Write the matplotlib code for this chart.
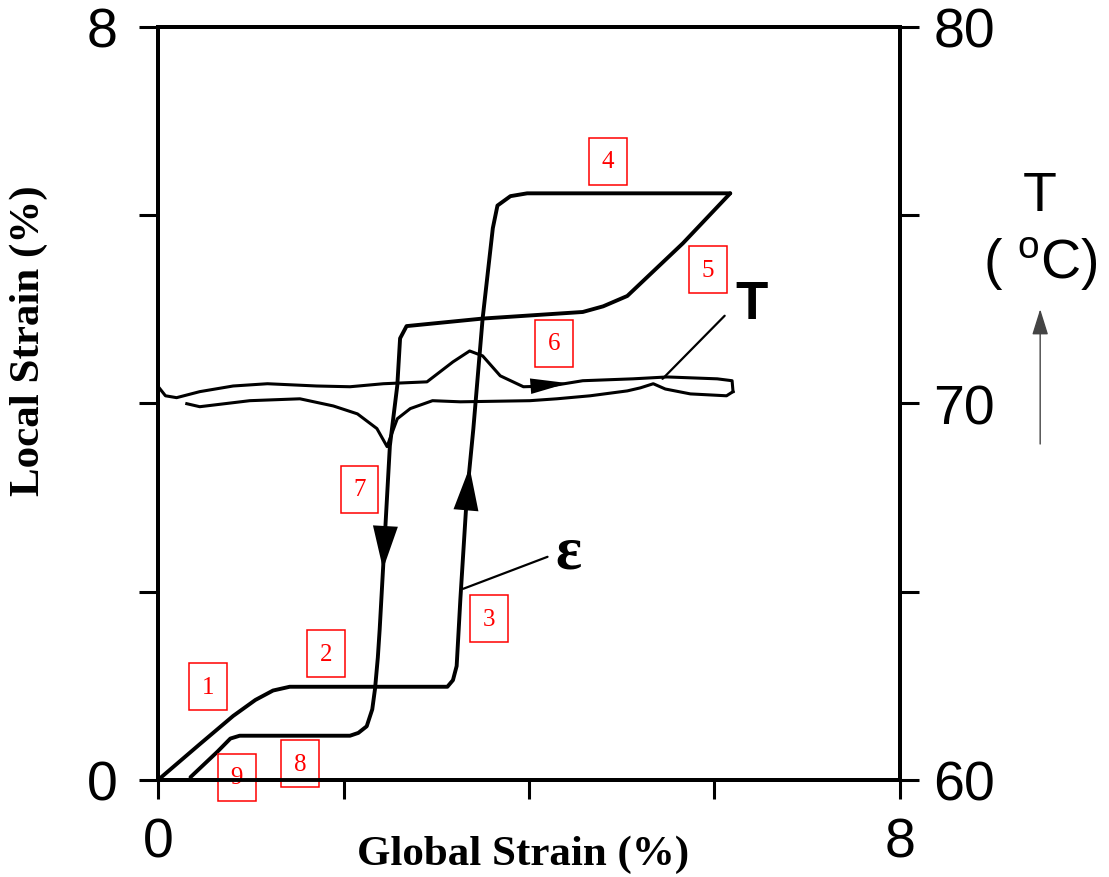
import matplotlib
matplotlib.use("Agg")
import matplotlib.pyplot as plt
import numpy as np

# local strain (epsilon) during loading and unloading, vs global strain
eps_load_x = [0.00, 0.45, 0.81, 1.05, 1.24, 1.42, 3.12, 3.18, 3.22, 3.26, 3.33, 3.40, 3.50, 3.61, 3.66, 3.80, 3.98, 6.17]
eps_load_y = [0.00, 0.38, 0.68, 0.85, 0.95, 0.99, 0.99, 1.06, 1.21, 1.92, 3.02, 3.73, 4.90, 5.86, 6.10, 6.20, 6.23, 6.23]
eps_unload_x = [6.17, 5.66, 5.06, 4.80, 4.58, 3.50, 2.68, 2.61, 2.58, 2.50, 2.39, 2.37, 2.34, 2.31, 2.25, 2.16, 2.07, 0.88, 0.78, 0.64, 0.35]
eps_unload_y = [6.23, 5.70, 5.14, 5.03, 4.97, 4.90, 4.82, 4.69, 4.19, 3.55, 1.60, 1.30, 0.97, 0.75, 0.57, 0.50, 0.47, 0.47, 0.44, 0.30, 0.03]

# temperature (deg C) vs global strain
T_load_x = [0.00, 0.08, 0.20, 0.45, 0.81, 1.18, 1.71, 2.07, 2.43, 2.90, 3.18, 3.36, 3.50, 3.69, 3.94, 4.23, 4.58, 5.12, 5.49, 6.03, 6.19, 6.20]
T_load_y = [70.45, 70.20, 70.15, 70.31, 70.46, 70.52, 70.46, 70.44, 70.52, 70.57, 71.10, 71.39, 71.26, 70.73, 70.44, 70.46, 70.60, 70.65, 70.70, 70.65, 70.60, 70.31]
T_unload_x = [6.20, 6.13, 5.74, 5.47, 5.34, 5.20, 5.06, 4.66, 4.30, 4.01, 3.26, 2.96, 2.72, 2.58, 2.50, 2.47, 2.36, 2.15, 1.89, 1.53, 0.99, 0.45, 0.31]
T_unload_y = [70.31, 70.20, 70.25, 70.38, 70.52, 70.41, 70.33, 70.20, 70.12, 70.07, 70.04, 70.07, 69.86, 69.59, 69.06, 68.85, 69.33, 69.72, 69.93, 70.12, 70.07, 69.91, 69.99]

# red boxed stage numbers
stage_labels = ["1", "2", "3", "4", "5", "6", "7", "8", "9"]
stage_x = [0.54, 1.81, 3.57, 4.85, 5.93, 4.27, 2.17, 1.53, 0.85]
stage_y = [0.99, 1.34, 1.71, 6.57, 5.42, 4.64, 3.09, 0.17, 0.03]

serif = "Liberation Serif"
sans = "Liberation Sans"

fig = plt.figure(figsize=(11.09, 8.78), dpi=100)
ax = fig.add_axes([0.1425, 0.1105, 0.669, 0.858])
ax2 = ax.twinx()

ax.plot(eps_load_x, eps_load_y, color="black", lw=2.8, solid_capstyle="round")
ax.plot(eps_unload_x, eps_unload_y, color="black", lw=2.8, solid_capstyle="round")
ax2.plot(T_load_x, T_load_y, color="black", lw=2.2)
ax2.plot(T_unload_x, T_unload_y, color="black", lw=2.2)


def arrow_at(a, xs, ys, y_tail, y_tip):
    # arrowhead on a steep branch, positions
    xs = np.asarray(xs)
    ys = np.asarray(ys)
    order = np.argsort(ys)
    xt = np.interp(y_tail, ys[order], xs[order])
    xh = np.interp(y_tip, ys[order], xs[order])
    a.annotate("", xy=(xh, y_tip), xytext=(xt, y_tail),
               arrowprops=dict(arrowstyle="-|>,head_length=1.55,head_width=0.45",
                               color="black", lw=0, mutation_scale=20,
                               shrinkA=0, shrinkB=0))


arrow_at(ax, eps_load_x[8:12], eps_load_y[8:12], 2.85, 3.32)
arrow_at(ax, eps_unload_x[8:11], eps_unload_y[8:11], 2.75, 2.24)

# arrow on the loading temperature trace, pointing right
xa0, xa1 = 3.95, 4.42
ax2.annotate("", xy=(xa1, np.interp(xa1, T_load_x, T_load_y)),
             xytext=(xa0, np.interp(xa0, T_load_x, T_load_y)),
             arrowprops=dict(arrowstyle="-|>,head_length=1.35,head_width=0.28",
                             color="black", lw=0, mutation_scale=20,
                             shrinkA=0, shrinkB=0))

# curve labels with leader lines
ax.annotate("", xy=(5.44, 4.26), xytext=(6.11, 4.93),
            arrowprops=dict(arrowstyle="-", color="black", lw=1.6,
                            shrinkA=0, shrinkB=0))
ax.text(6.40, 5.06, "T", fontsize=38, family=sans, fontweight="bold",
        ha="center", va="center")
ax.annotate("", xy=(3.29, 2.03), xytext=(4.20, 2.37),
            arrowprops=dict(arrowstyle="-", color="black", lw=1.6,
                            shrinkA=0, shrinkB=0))
ax.text(4.42, 2.42, "ε", fontsize=44, family=serif, fontweight="bold",
        ha="center", va="center")

for lab, sx, sy in zip(stage_labels, stage_x, stage_y):
    ax.text(sx, sy, lab, color="red", fontsize=18, family=serif,
            ha="center", va="center", zorder=5,
            bbox=dict(boxstyle="square,pad=0.5", fc="white", ec="red", lw=1.1))

# axes, ticks
ax.set_xlim(0, 8)
ax.set_ylim(0, 8)
ax2.set_ylim(60, 80)
ax.set_xticks([0, 8])
ax.set_xticklabels(["0", "8"])
ax.set_xticks([2, 4, 6], minor=True)
ax.set_yticks([0, 8])
ax.set_yticklabels(["0", "8"])
ax.set_yticks([2, 4, 6], minor=True)
ax2.set_yticks([60, 70, 80])
ax2.set_yticklabels(["60", "70", "80"])
ax2.set_yticks([65, 75], minor=True)

for a in (ax, ax2):
    a.tick_params(which="both", direction="out", length=14, width=2.2,
                  labelsize=40)
    for lbl in a.get_xticklabels() + a.get_yticklabels():
        lbl.set_family(sans)
    for s in a.spines.values():
        s.set_linewidth(2.8)
ax.tick_params(axis="y", pad=15)
ax.tick_params(axis="x", pad=12)
ax2.tick_params(axis="y", pad=10)

ax.set_xlabel("Global Strain (%)", family=serif, fontweight="bold", fontsize=31)
ax.set_ylabel("Local Strain (%)", family=serif, fontweight="bold", fontsize=31)
ax.xaxis.set_label_coords(0.492, -0.072)
ax.yaxis.set_label_coords(-0.148, 0.584)

# right side unit label with upward arrow
ax.text(1.189, 0.775, "T", transform=ax.transAxes, fontsize=40, family=sans,
        ha="center", va="center")
ax.text(1.189, 0.686, "( $\\mathregular{^{o}}$C)", transform=ax.transAxes,
        fontsize=40, family=sans, ha="center", va="center")
ax.annotate("", xy=(1.189, 0.625), xytext=(1.189, 0.446),
            xycoords="axes fraction", textcoords="axes fraction",
            arrowprops=dict(arrowstyle="-|>,head_length=0.8,head_width=0.25",
                            color="#444444", lw=1.0, mutation_scale=20,
                            shrinkA=0, shrinkB=0))

fig.savefig("out.png", dpi=100)
